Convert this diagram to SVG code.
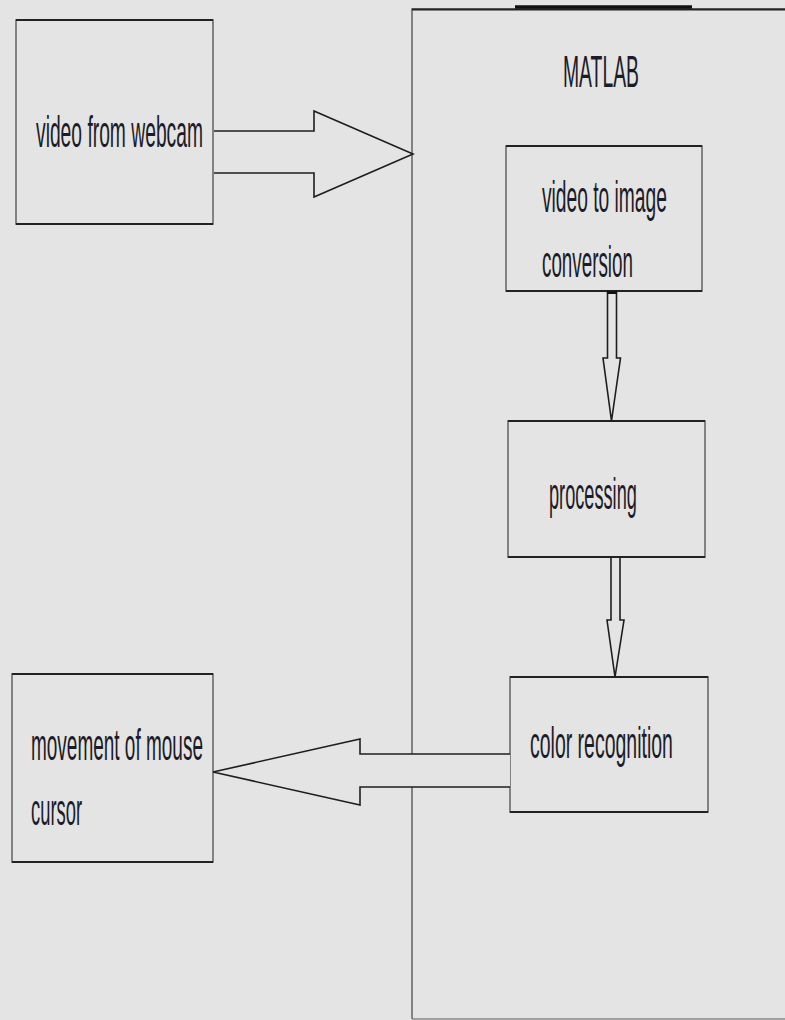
<svg xmlns="http://www.w3.org/2000/svg" width="785" height="1020" viewBox="0 0 785 1020">
<style>
.bg{fill:#e4e4e4}
.box{fill:#e4e4e4;stroke:#6a6a6a;stroke-width:1.6}
.edge{fill:none;stroke:#222;stroke-width:2}
.lbl{font-family:"Liberation Sans",Arial,sans-serif;font-size:45px;fill:#1c1c28}
.conn{fill:#e4e4e4;stroke:#1e1e1e;stroke-width:1.6;stroke-linejoin:miter}
</style>
<rect class="bg" x="0" y="0" width="785" height="1020"/>

<g id="matlab">
<path d="M412 1019 V9 H785" fill="none" stroke="#6a6a6a" stroke-width="1.6"/>
<path d="M412 9.5 H785" class="edge" stroke-width="1.4"/>
<path d="M515 7 H692" fill="none" stroke="#111" stroke-width="3.5"/>
<path d="M412 1019 H785" fill="none" stroke="#888" stroke-width="1.4"/>
<text class="lbl" font-size="43" transform="matrix(0.43 0 0 1 563 87)">MATLAB</text>
</g>

<g id="webcam">
<rect class="box" x="16" y="20" width="197" height="204"/>
<path class="edge" d="M16 20 H213 M16 224 H213"/>
<text class="lbl" transform="matrix(0.428 0 0 1 36 147)">video from webcam</text>
</g>

<g id="v2i">
<rect class="box" x="506" y="146" width="196" height="145"/>
<path class="edge" d="M506 146 H702 M506 291 H702"/>
<text class="lbl" transform="matrix(0.427 0 0 1 542 212)">video to image</text>
<text class="lbl" transform="matrix(0.418 0 0 1 542 277)">conversion</text>
</g>

<g id="processing">
<rect class="box" x="508" y="421" width="197" height="136"/>
<path class="edge" d="M508 421 H705 M508 557 H705"/>
<text class="lbl" transform="matrix(0.404 0 0 1 549 509)">processing</text>
</g>

<g id="color">
<rect class="box" x="510" y="677" width="198" height="135"/>
<path class="edge" d="M510 677 H708 M510 812 H708"/>
<text class="lbl" transform="matrix(0.433 0 0 1 530 758)">color recognition</text>
</g>

<g id="mouse">
<rect class="box" x="12" y="674" width="201" height="188"/>
<path class="edge" d="M12 674 H213 M12 862 H213"/>
<text class="lbl" transform="matrix(0.422 0 0 1 31 760)">movement of mouse</text>
<text class="lbl" transform="matrix(0.408 0 0 1 31 825)">cursor</text>
</g>

<g id="connectors">
<path class="conn" d="M214 131 H314 V111 L413 154 L314 197 V173 H214"/>
<path class="conn" d="M607.5 292 V358 H603 L611.5 421 L620.5 358 H616.5 V292"/>
<rect x="607" y="291" width="10" height="3" fill="#111"/>
<path class="conn" d="M611 558 V620 H607 L615 677 L624 620 H620 V558"/>
<path class="conn" d="M510 754 H360 V739 L213 772 L360 805 V787 H510"/>
</g>
</svg>
